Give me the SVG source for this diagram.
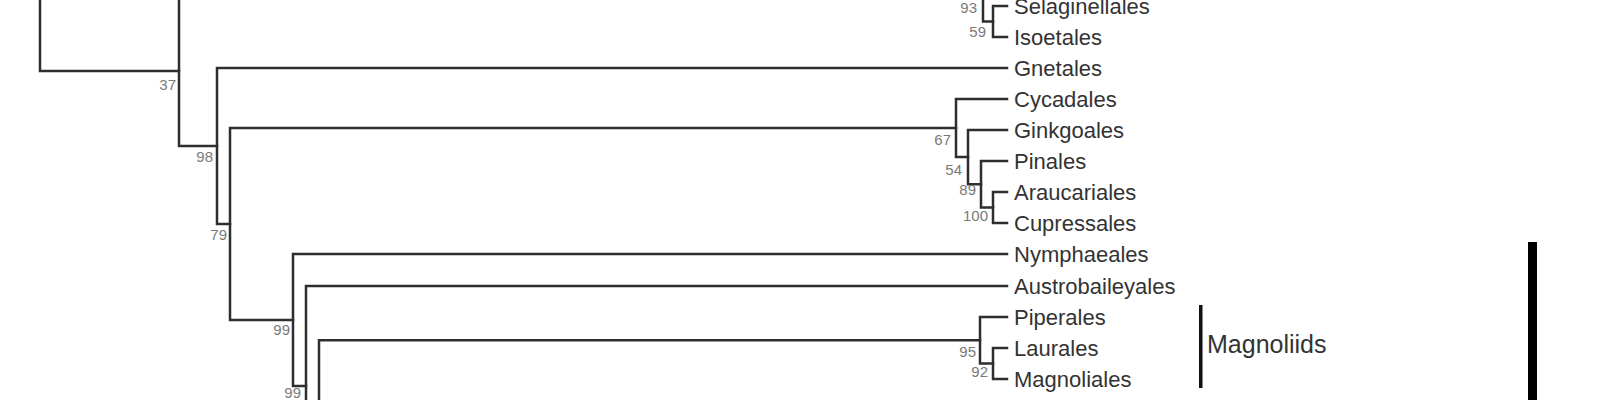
<svg xmlns="http://www.w3.org/2000/svg" width="1600" height="400" viewBox="0 0 1600 400">
<style>
.br{fill:none;stroke:#2e2e2e;stroke-width:2.5;stroke-linecap:square}
.leaf{font-family:"Liberation Sans",Arial,sans-serif;font-size:22px;fill:#333}
.sup{font-family:"Liberation Sans",Arial,sans-serif;font-size:15px;fill:#7a7a7a;text-anchor:end}
.clade{font-family:"Liberation Sans",Arial,sans-serif;font-size:25px;fill:#333}
</style>
<rect width="1600" height="400" fill="#fff"/>
<g id="connectors">
<path class="br" d="M40,-10V71H179"/>
<path class="br" d="M179,-10V146H217"/>
<path class="br" d="M983,-10V21.5H993"/>
<path class="br" d="M993,6V37M993,6H1007M993,37H1007"/>
<path class="br" d="M217,68V224H230M217,68H1007"/>
<path class="br" d="M230,128V320H293M230,128H956"/>
<path class="br" d="M956,99V157H968M956,99H1007"/>
<path class="br" d="M968,130V184.25H981M968,130H1007"/>
<path class="br" d="M981,161V207.5H993M981,161H1007"/>
<path class="br" d="M993,192V223M993,192H1007M993,223H1007"/>
<path class="br" d="M293,254V386H306M293,254H1007"/>
<path class="br" d="M306,286V410M306,286H1007"/>
<path class="br" d="M319,340.25V410M319,340.25H980"/>
<path class="br" d="M980,317V363.5H993M980,317H1007"/>
<path class="br" d="M993,348V379M993,348H1007M993,379H1007"/>
</g>
<g id="leaf-selaginellales"><text class="leaf" x="1014" y="14">Selaginellales</text></g>
<g id="leaf-isoetales"><text class="leaf" x="1014" y="45">Isoetales</text></g>
<g id="leaf-gnetales"><text class="leaf" x="1014" y="76">Gnetales</text></g>
<g id="leaf-cycadales"><text class="leaf" x="1014" y="107">Cycadales</text></g>
<g id="leaf-ginkgoales"><text class="leaf" x="1014" y="138">Ginkgoales</text></g>
<g id="leaf-pinales"><text class="leaf" x="1014" y="169">Pinales</text></g>
<g id="leaf-araucariales"><text class="leaf" x="1014" y="200">Araucariales</text></g>
<g id="leaf-cupressales"><text class="leaf" x="1014" y="231">Cupressales</text></g>
<g id="leaf-nymphaeales"><text class="leaf" x="1014" y="262">Nymphaeales</text></g>
<g id="leaf-austrobaileyales"><text class="leaf" x="1014" y="294">Austrobaileyales</text></g>
<g id="leaf-piperales"><text class="leaf" x="1014" y="325">Piperales</text></g>
<g id="leaf-laurales"><text class="leaf" x="1014" y="356">Laurales</text></g>
<g id="leaf-magnoliales"><text class="leaf" x="1014" y="387">Magnoliales</text></g>
<g id="node-37"><text class="sup" x="176" y="90">37</text></g>
<g id="node-98"><text class="sup" x="213" y="162">98</text></g>
<g id="node-79"><text class="sup" x="227" y="240">79</text></g>
<g id="node-99a"><text class="sup" x="290" y="335">99</text></g>
<g id="node-99b"><text class="sup" x="301" y="398">99</text></g>
<g id="node-93"><text class="sup" x="977" y="13">93</text></g>
<g id="node-59"><text class="sup" x="986" y="37">59</text></g>
<g id="node-67"><text class="sup" x="951" y="145">67</text></g>
<g id="node-54"><text class="sup" x="962" y="175">54</text></g>
<g id="node-89"><text class="sup" x="976" y="195">89</text></g>
<g id="node-100"><text class="sup" x="988" y="221">100</text></g>
<g id="node-95"><text class="sup" x="976" y="357">95</text></g>
<g id="node-92"><text class="sup" x="988" y="377">92</text></g>
<g id="clade-magnoliids">
<rect x="1199" y="305" width="3.5" height="83" fill="#111"/>
<text class="clade" x="1207" y="353">Magnoliids</text>
</g>
<g id="clade-bar">
<rect x="1528" y="242" width="9" height="170" fill="#000"/>
</g>
</svg>
